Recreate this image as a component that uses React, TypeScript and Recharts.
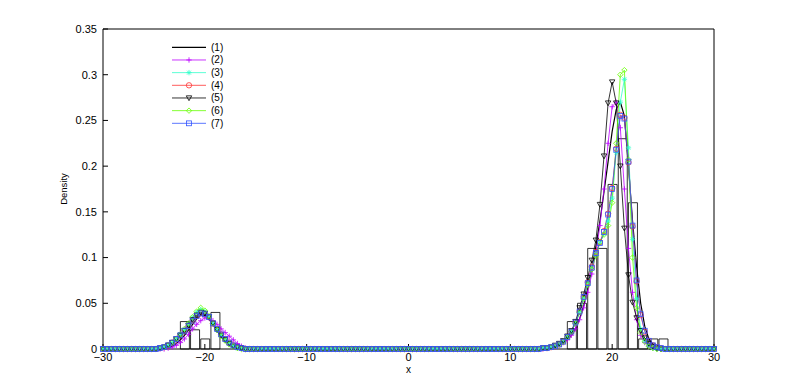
import React from "react";
import { ComposedChart, BarChart, Bar, Line, XAxis, YAxis, Legend } from "recharts";

// evaluation grid: -30:0.4:30
const gridStart = -30;
const gridStep = 0.4;
const gridCount = 151;

// the curves are flat zero outside these two windows
const leftStart = -24.4; // 23 points, up to -15.6
const rightStart = 12.8; // 37 points, up to 27.2

const s1Left = [0, 0.001, 0.002, 0.003, 0.006, 0.01, 0.015, 0.021, 0.027, 0.033, 0.037, 0.037, 0.033, 0.027, 0.02, 0.014, 0.009, 0.005, 0.002, 0.001, 0, 0, 0];
const s1Right = [0, 0, 0.001, 0.002, 0.003, 0.005, 0.007, 0.01, 0.015, 0.022, 0.033, 0.047, 0.066, 0.088, 0.112, 0.14, 0.172, 0.205, 0.238, 0.262, 0.27, 0.255, 0.2, 0.14, 0.09, 0.05, 0.025, 0.011, 0.005, 0.002, 0.001, 0, 0, 0, 0, 0, 0];

const s2Left = [0, 0, 0.001, 0.002, 0.004, 0.007, 0.011, 0.016, 0.022, 0.027, 0.031, 0.034, 0.034, 0.031, 0.027, 0.022, 0.018, 0.014, 0.01, 0.006, 0.003, 0.001, 0];
const s2Right = [0, 0, 0.001, 0.002, 0.003, 0.005, 0.007, 0.01, 0.015, 0.022, 0.032, 0.045, 0.062, 0.082, 0.105, 0.135, 0.175, 0.225, 0.265, 0.27, 0.242, 0.175, 0.11, 0.062, 0.032, 0.015, 0.007, 0.003, 0.001, 0, 0, 0, 0, 0, 0, 0, 0];

const s3Left = [0.001, 0.002, 0.004, 0.007, 0.011, 0.016, 0.021, 0.027, 0.034, 0.04, 0.043, 0.041, 0.035, 0.028, 0.021, 0.015, 0.01, 0.006, 0.003, 0.001, 0.001, 0, 0];
const s3Right = [0, 0.001, 0.001, 0.002, 0.003, 0.005, 0.008, 0.013, 0.019, 0.028, 0.04, 0.055, 0.071, 0.088, 0.104, 0.116, 0.126, 0.14, 0.165, 0.215, 0.27, 0.295, 0.22, 0.12, 0.055, 0.022, 0.009, 0.004, 0.001, 0, 0, 0, 0, 0, 0, 0, 0];

const s4Left = [0.001, 0.002, 0.004, 0.007, 0.011, 0.015, 0.02, 0.025, 0.031, 0.036, 0.039, 0.038, 0.035, 0.028, 0.022, 0.016, 0.011, 0.007, 0.004, 0.002, 0.001, 0, 0];
const s4Right = [0, 0.001, 0.001, 0.002, 0.003, 0.005, 0.008, 0.013, 0.019, 0.029, 0.041, 0.057, 0.073, 0.09, 0.106, 0.117, 0.129, 0.148, 0.176, 0.219, 0.256, 0.253, 0.204, 0.134, 0.074, 0.037, 0.019, 0.009, 0.004, 0.002, 0.001, 0, 0, 0, 0, 0, 0];

const s5Left = [0.001, 0.002, 0.004, 0.007, 0.011, 0.015, 0.02, 0.026, 0.032, 0.037, 0.04, 0.039, 0.035, 0.028, 0.021, 0.015, 0.01, 0.006, 0.003, 0.002, 0.001, 0, 0];
const s5Right = [0, 0.001, 0.001, 0.002, 0.004, 0.006, 0.009, 0.014, 0.02, 0.03, 0.045, 0.06, 0.078, 0.097, 0.119, 0.158, 0.211, 0.269, 0.292, 0.269, 0.2, 0.132, 0.081, 0.051, 0.034, 0.02, 0.012, 0.006, 0.003, 0.001, 0, 0, 0, 0, 0, 0, 0];

const s6Left = [0.001, 0.002, 0.004, 0.007, 0.011, 0.016, 0.022, 0.028, 0.035, 0.041, 0.045, 0.042, 0.036, 0.028, 0.021, 0.014, 0.009, 0.005, 0.003, 0.001, 0, 0, 0];
const s6Right = [0, 0.001, 0.001, 0.002, 0.003, 0.005, 0.008, 0.013, 0.019, 0.028, 0.04, 0.055, 0.07, 0.087, 0.102, 0.117, 0.125, 0.135, 0.16, 0.225, 0.3, 0.305, 0.207, 0.1, 0.045, 0.018, 0.008, 0.003, 0.001, 0, 0, 0, 0, 0, 0, 0, 0];

const s7Left = [0.001, 0.002, 0.004, 0.007, 0.011, 0.015, 0.02, 0.025, 0.031, 0.036, 0.039, 0.038, 0.035, 0.028, 0.022, 0.016, 0.011, 0.007, 0.004, 0.002, 0.001, 0, 0];
const s7Right = [0, 0.001, 0.001, 0.002, 0.003, 0.005, 0.008, 0.013, 0.019, 0.029, 0.041, 0.057, 0.072, 0.089, 0.105, 0.116, 0.128, 0.147, 0.175, 0.218, 0.255, 0.252, 0.205, 0.135, 0.075, 0.038, 0.02, 0.009, 0.004, 0.002, 0.001, 0, 0, 0, 0, 0, 0];

// histogram of the sample
const histBins = [-22, -21, -20, -19, 16, 17, 18, 19, 20, 21, 22, 23, 24, 25];
const histHeights = [0.03, 0.021, 0.011, 0.04, 0.03, 0.05, 0.11, 0.11, 0.18, 0.23, 0.16, 0.011, 0.011, 0.011];

const xTicks = [-30, -20, -10, 0, 10, 20, 30];
const yTicks = [0, 0.05, 0.1, 0.15, 0.2, 0.25, 0.3, 0.35];
const seriesNames = ["(1)", "(2)", "(3)", "(4)", "(5)", "(6)", "(7)"];

const SERIES = [
  { key: "s1", left: s1Left, right: s1Right, color: "#000000", marker: "none", width: 1.2 },
  { key: "s2", left: s2Left, right: s2Right, color: "#bb00ff", marker: "plus", width: 0.8 },
  { key: "s3", left: s3Left, right: s3Right, color: "#33ffcc", marker: "star", width: 0.8 },
  { key: "s4", left: s4Left, right: s4Right, color: "#ff3333", marker: "circle", width: 0.8 },
  { key: "s5", left: s5Left, right: s5Right, color: "#000000", marker: "tri", width: 0.8 },
  { key: "s6", left: s6Left, right: s6Right, color: "#66ff00", marker: "diamond", width: 0.8 },
  { key: "s7", left: s7Left, right: s7Right, color: "#3355ff", marker: "square", width: 0.8 },
];

const round1 = (v: number) => Math.round(v * 10) / 10;

function valueAt(arr: number[], start: number, x: number) {
  const i = Math.round((x - start) / gridStep);
  if (i < 0 || i >= arr.length) return undefined;
  return arr[i];
}

const lineData = Array.from({ length: gridCount }, (_, k) => {
  const x = round1(gridStart + k * gridStep);
  const row: Record<string, number> = { x };
  SERIES.forEach((s) => {
    row[s.key] = valueAt(s.left, leftStart, x) ?? valueAt(s.right, rightStart, x) ?? 0;
  });
  return row;
});

const histData = histBins.map((x, i) => ({ x, h: histHeights[i] }));

function Marker({ kind, cx, cy, color }: { kind: string; cx: number; cy: number; color: string }) {
  const r = 2.7;
  const common = { stroke: color, strokeWidth: 0.8, fill: "none" };
  switch (kind) {
    case "plus":
      return <path d={`M${cx - r},${cy}H${cx + r}M${cx},${cy - r}V${cy + r}`} {...common} />;
    case "star": {
      const d = r * 0.72;
      return (
        <path
          d={`M${cx - r},${cy}H${cx + r}M${cx},${cy - r}V${cy + r}M${cx - d},${cy - d}L${cx + d},${cy + d}M${cx - d},${cy + d}L${cx + d},${cy - d}`}
          {...common}
        />
      );
    }
    case "circle":
      return <circle cx={cx} cy={cy} r={r} {...common} />;
    case "tri":
      return <path d={`M${cx - r},${cy - r * 0.8}L${cx + r},${cy - r * 0.8}L${cx},${cy + r}Z`} {...common} />;
    case "diamond":
      return <path d={`M${cx},${cy - r}L${cx + r},${cy}L${cx},${cy + r}L${cx - r},${cy}Z`} {...common} />;
    case "square":
      return <rect x={cx - r * 0.9} y={cy - r * 0.9} width={r * 1.8} height={r * 1.8} {...common} />;
    default:
      return null;
  }
}

const makeDot = (kind: string, color: string) => (p: any) => {
  if (typeof p.cx !== "number" || typeof p.cy !== "number" || isNaN(p.cy)) return <g key={p.index} />;
  return (
    <g key={p.index}>
      <Marker kind={kind} cx={p.cx} cy={p.cy} color={color} />
    </g>
  );
};

function MatlabLegend() {
  return (
    <svg width={80} height={92} style={{ display: "block" }}>
      {SERIES.map((s, i) => {
        const y = 7.3 + i * 12.67;
        return (
          <g key={s.key}>
            <line x1={0} x2={34} y1={y} y2={y} stroke={s.color} strokeWidth={s.width} />
            <Marker kind={s.marker} cx={17} cy={y} color={s.color} />
            <text x={39} y={y + 3.5} fontSize={10} fill="#000">
              {seriesNames[i]}
            </text>
          </g>
        );
      })}
    </svg>
  );
}

const fmtX = (v: number) => (v < 0 ? "\u2212" + Math.abs(v) : String(v));
const tickFont = { fontSize: 11, fill: "#000" };

export default function App() {
  return (
    <div style={{ position: "absolute", left: 0, top: 0, width: 789, height: 392, background: "#fff", fontFamily: "'Liberation Sans', Arial, sans-serif" }}>
      <div style={{ position: "absolute", left: 0, top: 0 }}>
        <BarChart width={789} height={392} data={histData} margin={{ top: 29, right: 75, bottom: 43, left: 103 }}>
          <XAxis type="number" dataKey="x" domain={[-30, 30]} hide />
          <YAxis type="number" domain={[0, 0.35]} hide />
          <Bar dataKey="h" barSize={9} fill="none" stroke="#000" strokeWidth={0.8} isAnimationActive={false} />
        </BarChart>
      </div>
      <div style={{ position: "absolute", left: 0, top: 0 }}>
        <ComposedChart width={789} height={392} data={lineData} margin={{ top: 28, right: 74, bottom: 13, left: 0 }}>
          <XAxis
            type="number"
            dataKey="x"
            domain={[-30, 30]}
            ticks={xTicks}
            interval={0}
            tickFormatter={fmtX}
            height={30}
            tickSize={-5}
            tickMargin={9}
            tick={tickFont}
            stroke="#000"
            label={{ value: "x", position: "insideBottom", offset: 6, fontSize: 10, fill: "#000" }}
          />
          <XAxis
            xAxisId="top"
            orientation="top"
            type="number"
            dataKey="x"
            domain={[-30, 30]}
            ticks={xTicks}
            interval={0}
            height={1}
            tickSize={-5}
            tick={false}
            stroke="#000"
          />
          <YAxis
            type="number"
            domain={[0, 0.35]}
            ticks={yTicks}
            interval={0}
            width={103}
            tickSize={-5}
            tickMargin={11}
            tick={tickFont}
            stroke="#000"
            label={{ value: "Density", angle: -90, position: "insideLeft", offset: 64, fontSize: 9.5, fill: "#000", style: { textAnchor: "middle" } }}
          />
          <YAxis
            yAxisId="right"
            orientation="right"
            type="number"
            domain={[0, 0.35]}
            ticks={yTicks}
            interval={0}
            width={1}
            tickSize={-5}
            tick={false}
            stroke="#000"
          />
          {SERIES.map((s) => (
            <Line
              key={s.key}
              type="linear"
              dataKey={s.key}
              stroke={s.color}
              strokeWidth={s.width}
              dot={s.marker === "none" ? false : makeDot(s.marker, s.color)}
              activeDot={false}
              connectNulls
              isAnimationActive={false}
            />
          ))}
          <Legend
            layout="vertical"
            align="center"
            verticalAlign="middle"
            content={() => <MatlabLegend />}
            wrapperStyle={{ position: "absolute", left: 172, top: 40, width: 80, height: 92 }}
          />
        </ComposedChart>
      </div>
    </div>
  );
}
